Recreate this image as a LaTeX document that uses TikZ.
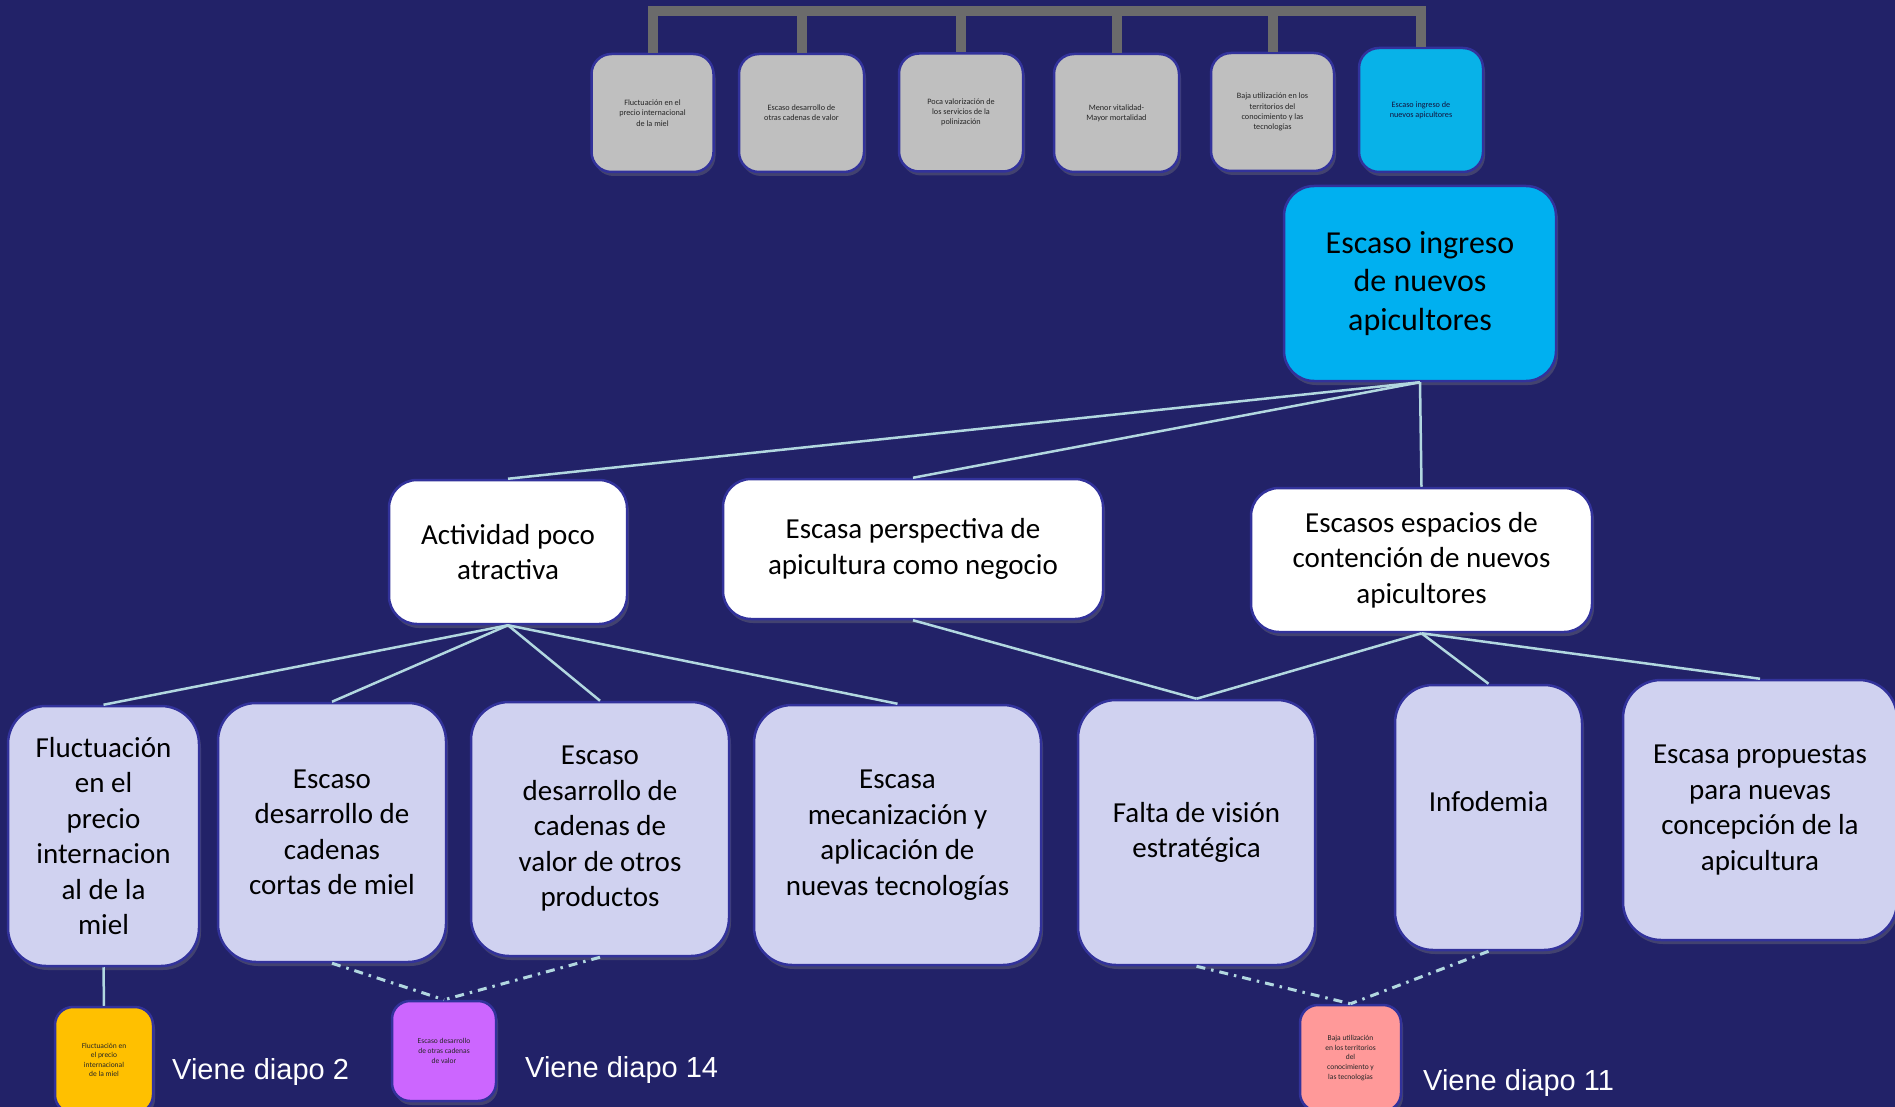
\documentclass[tikz,border=0pt]{standalone}
\usepackage{fontspec}
\setmainfont{Carlito}
\newfontfamily\notefont{Liberation Sans}
\usetikzlibrary{shadows}

\definecolor{navybg}{RGB}{34,34,104}
\definecolor{edgeblue}{RGB}{50,50,155}
\definecolor{boxgray}{RGB}{191,191,191}
\definecolor{bargray}{RGB}{107,107,107}
\definecolor{skycyan}{RGB}{0,176,240}
\definecolor{smallcyan}{RGB}{8,178,232}
\definecolor{lavbox}{RGB}{208,210,240}
\definecolor{linkcol}{RGB}{178,216,224}
\definecolor{honey}{RGB}{255,192,0}
\definecolor{refviolet}{RGB}{204,102,255}
\definecolor{refpink}{RGB}{255,153,153}

\begin{document}
\begin{tikzpicture}[x=1pt, y=-1pt,
  box/.style={rectangle, draw=edgeblue, line width=2.5pt, align=center, inner sep=2pt,
              drop shadow={shadow xshift=2pt, shadow yshift=-4pt, opacity=0.35}},
  topbox/.style={box, fill=boxgray, minimum width=122pt, minimum height=118pt,
                 rounded corners=20pt, font=\fontsize{8.2}{10.2}\selectfont, text=black!85},
  rootbox/.style={box, fill=skycyan, rounded corners=30pt, font=\fontsize{32}{38.5}\selectfont},
  midbox/.style={box, fill=white, rounded corners=28pt, font=\fontsize{29}{35.5}\selectfont},
  lowbox/.style={box, fill=lavbox, rounded corners=38pt, font=\fontsize{29}{35.5}\selectfont},
  refbox/.style={box, rounded corners=18pt, font=\fontsize{7.5}{9.6}\selectfont, text=black!85},
  bar/.style={draw=bargray, line width=10pt, line join=miter},
  link/.style={draw=linkcol, line width=2.5pt},
  reflink/.style={draw=linkcol, line width=3pt, dash pattern=on 9pt off 6pt on 2.5pt off 6pt},
  note/.style={font=\notefont\fontsize{29}{34}\selectfont, text=white, inner sep=0pt, anchor=base west},
]
\useasboundingbox (0,0) rectangle (1895,1107);
\fill[navybg] (0,0) rectangle (1895,1107);
\clip (0,0) rectangle (1895,1107);

% Top row
\node[topbox] (t1) at (652.5,113) {Fluctuación en el\\precio internacional\\de la miel};
\node[topbox, minimum width=125pt] (t2) at (801.5,113) {Escaso desarrollo de\\otras cadenas de valor};
\node[topbox, minimum width=124pt] (t3) at (961,112.5) {Poca valorización de\\los servicios de la\\polinización};
\node[topbox, minimum width=125pt] (t4) at (1116.5,113) {Menor vitalidad-\\Mayor mortalidad};
\node[topbox, minimum width=123pt] (t5) at (1272.5,112) {Baja utilización en los\\territorios del\\conocimiento y las\\tecnologías};
\node[topbox, fill=smallcyan, minimum width=124pt, minimum height=124pt, text=edgeblue!40!black] (t6) at (1421,110) {Escaso ingreso de\\nuevos apicultores};

\coordinate (barline) at (0,11.5);
\draw[bar] (t6.north) |- (barline -| t1.north) -- (t1.north);
\foreach \k in {t2,t3,t4,t5}
  \draw[bar] (\k.north) -- (\k.north |- barline);

% Root
\node[rootbox, minimum width=272pt, minimum height=195pt] (root) at (1420,283.5) {Escaso ingreso\\de nuevos\\apicultores};

% Middle row
\node[midbox, minimum width=238pt, minimum height=144pt] (act) at (508,552) {Actividad poco\\atractiva};
\node[midbox, minimum width=380pt, minimum height=140pt] (persp) at (913,549) {Escasa perspectiva de\\apicultura como negocio};
\node[midbox, minimum width=341pt, minimum height=144pt] (esp) at (1421.5,560) {Escasos espacios de\\contención de nuevos\\apicultores};

% Bottom row
\node[lowbox, minimum width=191pt, minimum height=260pt] (fluct) at (103.5,836) {Fluctuación\\en el\\precio\\internacion\\al de la\\miel};
\node[lowbox, minimum width=228pt, minimum height=259pt] (cortas) at (332,832.5) {Escaso\\desarrollo de\\cadenas\\cortas de miel};
\node[lowbox, minimum width=258pt, minimum height=254pt] (valor) at (600,829) {Escaso\\desarrollo de\\cadenas de\\valor de otros\\productos};
\node[lowbox, minimum width=287pt, minimum height=260pt] (mecan) at (897.5,835) {Escasa\\mecanización y\\aplicación de\\nuevas tecnologías};
\node[lowbox, minimum width=237pt, minimum height=265pt] (falta) at (1196.5,832.5) {Falta de visión\\estratégica};
\node[lowbox, minimum width=187pt, minimum height=265pt, text depth=33pt] (info) at (1488.5,817.5) {Infodemia};
\node[lowbox, minimum width=274pt, minimum height=260pt] (prop) at (1760,810) {Escasa propuestas\\para nuevas\\concepción de la\\apicultura};

% Source slides
\node[refbox, fill=honey, minimum width=98pt, minimum height=106pt] (fromtwo) at (104,1060) {Fluctuación en\\el precio\\internacional\\de la miel};
\node[refbox, fill=refviolet, minimum width=104pt, minimum height=100pt] (fromfourteen) at (444,1051) {Escaso desarrollo\\de otras cadenas\\de valor};
\node[refbox, fill=refpink, minimum width=101pt, minimum height=106pt] (fromeleven) at (1350.5,1058) {Baja utilización\\en los territorios\\del\\conocimiento y\\las tecnologías};

\node[note] at (172,1079) {Viene diapo 2};
\node[note] at (525,1077) {Viene diapo 14};
\node[note] at (1423,1090) {Viene diapo 11};

% Links
\foreach \k in {act,persp,esp}
  \draw[link] (root.south) -- (\k.north);
\foreach \k in {fluct,cortas,valor,mecan}
  \draw[link] (act.south) -- (\k.north);
\draw[link] (persp.south) -- (falta.north);
\foreach \k in {falta,info,prop}
  \draw[link] (esp.south) -- (\k.north);
\draw[link] (fluct.south) -- (fromtwo.north);
\draw[reflink] (cortas.south) -- (fromfourteen.north);
\draw[reflink] (valor.south) -- (fromfourteen.north);
\draw[reflink] (falta.south) -- (fromeleven.north);
\draw[reflink] (info.south) -- (fromeleven.north);
\end{tikzpicture}
\end{document}
